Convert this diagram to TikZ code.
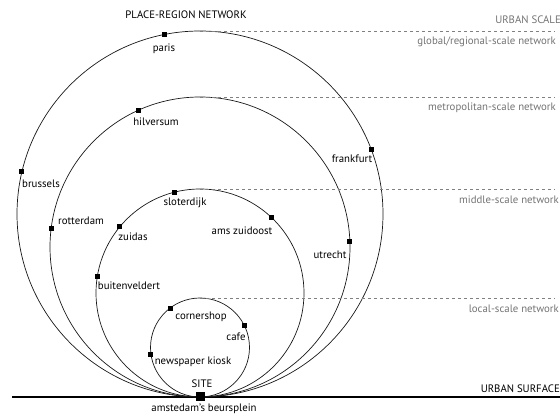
\documentclass[tikz,border=0pt]{standalone}
\usepackage{fontspec}
\setmainfont{PT Sans}
\begin{document}
\begin{tikzpicture}[x=1pt,y=1pt,font=\fontsize{10.8}{12}\selectfont]
\tikzset{
  place/.style={fill=black,inner sep=0pt,minimum size=5pt},
  sitebox/.style={fill=black,inner sep=0pt,minimum size=9pt},
  lbl/.style={inner sep=0pt},
  scalelbl/.style={text=black!55,inner sep=0pt,anchor=east},
  scaleline/.style={black!50,dashed,line width=0.6pt}
}
\useasboundingbox (0,0) rectangle (560,415);
% urban surface
\draw[line width=2.5pt] (12,18) -- (560,18);
% network circles, all touching the site
\foreach \r/\n in {183/one,150/two,104/three,49.5/four} {
  \draw[line width=0.7pt,black!90] (200,18+\r) circle (\r);
  \coordinate (c\n) at (200,18+\r);
  \coordinate (top\n) at (200,18+2*\r);
}
% scale lines
\draw[scaleline] (topone) -- ([xshift=355pt]topone);
\draw[scaleline] (toptwo) -- ([xshift=355pt]toptwo);
\draw[scaleline] (topthree) -- ([xshift=355pt]topthree);
\draw[scaleline] (topfour) -- ([xshift=355pt]topfour);
\node[scalelbl] (urbanscale) at (561,395) {URBAN SCALE};
\node[scalelbl] (global) at (556,373) {global/regional-scale network};
\node[scalelbl] (metro) at (556,307) {metropolitan-scale network};
\node[scalelbl] (middle) at (559,215) {middle-scale network};
\node[scalelbl] (local) at (559,106) {local-scale network};
\node[lbl,anchor=east] (surface) at (560,26) {URBAN SURFACE};
\node[lbl] (title) at (186,400) {PLACE-REGION NETWORK};
% places
\path (cone) ++(101.3:183) node[place] (paris) {};
\path (cone) ++(166.6:183) node[place] (brussels) {};
\path (cone) ++(20.6:183) node[place] (frankfurt) {};
\path (ctwo) ++(114.3:150) node[place] (hilversum) {};
\path (ctwo) ++(173:150) node[place] (rotterdam) {};
\path (ctwo) ++(2.1:150) node[place] (utrecht) {};
\path (cthree) ++(104.4:104) node[place] (sloterdijk) {};
\path (cthree) ++(140.3:104) node[place] (zuidas) {};
\path (cthree) ++(46.8:104) node[place] (zuidoost) {};
\path (cthree) ++(170.9:104) node[place] (buitenveldert) {};
\path (cfour) ++(127.2:49.5) node[place] (cornershop) {};
\path (cfour) ++(26.6:49.5) node[place] (cafe) {};
\path (cfour) ++(187.6:49.5) node[place] (kiosk) {};
\node[sitebox] (site) at (200,18) {};
% place names
\node[lbl] (parislbl) at (164,366) {paris};
\node[lbl] (hilversumlbl) at (156,293) {hilversum};
\node[lbl] (brusselslbl) at (41,231) {brussels};
\node[lbl] (rotterdamlbl) at (81,194) {rotterdam};
\node[lbl] (zuidaslbl) at (133,178) {zuidas};
\node[lbl] (sloterdijklbl) at (185,212) {sloterdijk};
\node[lbl] (zuidoostlbl) at (242,184) {ams zuidoost};
\node[lbl] (buitenveldertlbl) at (129,129) {buitenveldert};
\node[lbl] (frankfurtlbl) at (352,256) {frankfurt};
\node[lbl] (utrechtlbl) at (330,160) {utrecht};
\node[lbl] (cornershoplbl) at (201,98) {cornershop};
\node[lbl] (cafelbl) at (236,78) {cafe};
\node[lbl] (kiosklbl) at (193,53) {newspaper kiosk};
\node[lbl] (sitelbl) at (202,31) {SITE};
\node[lbl] (beursplein) at (204,6) {amstedam's beursplein};
\end{tikzpicture}
\end{document}
